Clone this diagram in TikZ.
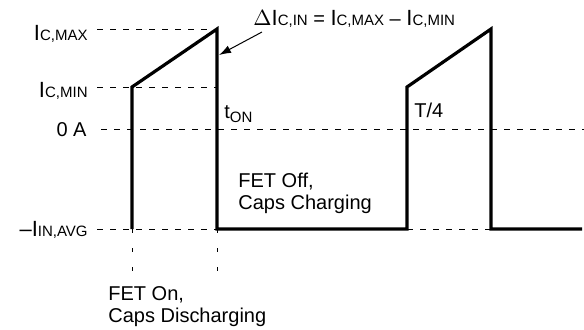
\documentclass[tikz,border=0pt]{standalone}
\usepackage{fontspec}
\setmainfont{Liberation Sans}
\usetikzlibrary{arrows.meta}
\newcommand{\cur}[1]{{\fontsize{11}{12}\selectfont I}{\fontsize{7.5}{8}\selectfont #1}}

\begin{document}
\begin{tikzpicture}[x=0.5pt, y=-0.5pt,
	wave/.style={line width=1.6pt, line join=miter},
	guide/.style={line width=0.5pt, dash pattern=on 3pt off 3.5pt},
	tick/.style={line width=0.5pt, dash pattern=on 2pt off 7.5pt},
	lbl/.style={font=\fontsize{10}{11}\selectfont, inner sep=0pt}]
	\useasboundingbox (0,0) rectangle (584,329);

	% Define waveform corners
	\coordinate (Start1) at (132,229);
	\coordinate (Min1) at (132,87);
	\coordinate (Peak1) at (217,29);
	\coordinate (Fall1) at (217,229);
	\coordinate (Start2) at (407,229);
	\coordinate (Min2) at (407,87);
	\coordinate (Peak2) at (491,29);
	\coordinate (Fall2) at (491,229);
	\coordinate (End2) at (582,229);
	\coordinate (ZeroEnd) at (584,129);
	\coordinate (TickOn) at (132,274);
	\coordinate (TickOff) at (217,274);

	% Define level labels
	\node[lbl, anchor=base east] (Max) at (88,40) {\cur{C,MAX}};
	\node[lbl, anchor=base east] (Min) at (88,97) {\cur{C,MIN}};
	\node[lbl, anchor=base east] (Zero) at (87,136) {0 A};
	\node[lbl, anchor=base east] (Avg) at (88,236) {{\fontsize{11}{12}\selectfont \textendash}\cur{IN,AVG}};

	\draw[guide, shorten <=4.5pt] (Max.east |- Peak1) -- (Peak1);
	\draw[guide, shorten <=4.5pt] (Min.east |- Min1) -- (Fall1 |- Min1);
	\draw[guide, shorten <=7pt] (Zero.east |- ZeroEnd) -- (ZeroEnd);
	\draw[guide, shorten <=4.5pt] (Avg.east |- Fall1) -- (Fall1);
	\draw[guide] (Start2) -- (Fall2);
	\draw[tick] (Start1) -- (TickOn);
	\draw[tick] (Fall1) -- (TickOff);

	% Define waveform
	\draw[wave] (Start1) -- (Min1) -- (Peak1) -- (Fall1) -- (Start2)
		-- (Min2) -- (Peak2) -- (Fall2) -- (End2);

	% Define ripple label
	\node[lbl, anchor=base west] (Delta) at (253,25)
		{{\fontsize{11}{12}\selectfont $\Delta$}\cur{C,IN} = \cur{C,MAX} \textendash{} \cur{C,MIN}};
	\coordinate (DeltaTail) at (262,32);
	\coordinate (DeltaHead) at (219,55);
	\draw[-{Latex[length=6pt,width=4pt]}, line width=0.5pt] (DeltaTail) -- (DeltaHead);

	% Define time labels
	\node[lbl, anchor=base west] (TOn) at (224,118) {t\raisebox{-2pt}{\fontsize{7.5}{8}\selectfont ON}};
	\node[lbl, anchor=base west] (TQuarter) at (414,117) {T/4};

	% Define state labels
	\node[lbl, anchor=base west] (Off) at (238,187) {FET Off,};
	\node[lbl, anchor=base west] (OffCaps) at (238,209) {Caps Charging};
	\node[lbl, anchor=base west] (On) at (108,300) {FET On,};
	\node[lbl, anchor=base west] (OnCaps) at (108,322) {Caps Discharging};
\end{tikzpicture}
\end{document}
